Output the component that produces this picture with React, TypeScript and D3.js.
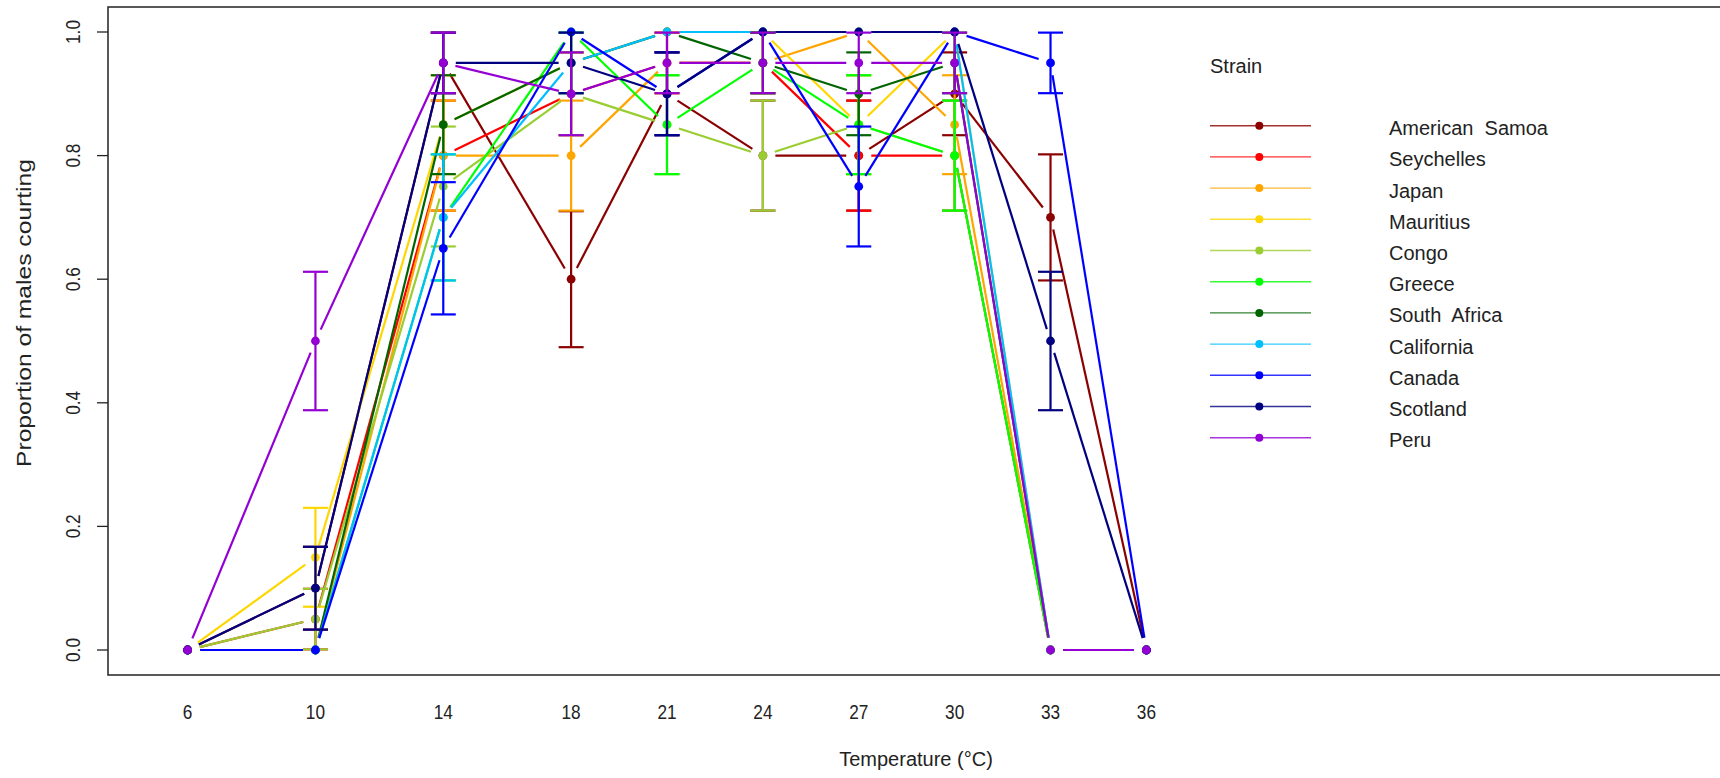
import React from "react";
import * as d3 from "d3";

// ---- data ----
const temperatures = [6, 10, 14, 18, 21, 24, 27, 30, 33, 36];
const tempLabels = ["6", "10", "14", "18", "21", "24", "27", "30", "33", "36"];
const yTicks = [0, 0.2, 0.4, 0.6, 0.8, 1.0];

const strainNames = [
  "American  Samoa", "Seychelles", "Japan", "Mauritius", "Congo", "Greece",
  "South  Africa", "California", "Canada", "Scotland", "Peru",
];
const strainColors = [
  "#8B0000", "#FF0000", "#FFA500", "#FFD700", "#9ACD32", "#00FF00",
  "#006400", "#00BFFF", "#0000FF", "#000080", "#9400D3",
];

const americanSamoa = [0, 0.1, 0.95, 0.6, 0.9, 0.8, 0.8, 0.9, 0.7, 0];
const americanSamoaSE = [0, 0.067, 0.049, 0.11, 0.067, 0.089, 0.089, 0.067, 0.102, 0];
const seychelles = [0, 0.05, 0.8, 0.9, 0.95, 0.95, 0.8, 0.8, 0, 0];
const seychellesSE = [0, 0.049, 0.089, 0.067, 0.049, 0.049, 0.089, 0.089, 0, 0];
const japan = [0, 0, 0.8, 0.8, 0.95, 0.95, 1.0, 0.85, 0, 0];
const japanSE = [0, 0, 0.089, 0.089, 0.049, 0.049, 0, 0.08, 0, 0];
const mauritius = [0, 0.15, 0.85, 0.95, 1.0, 1.0, 0.85, 1.0, 0, 0];
const mauritiusSE = [0, 0.08, 0.08, 0.049, 0, 0, 0.08, 0, 0, 0];
const congo = [0, 0.05, 0.75, 0.9, 0.85, 0.8, 0.85, 0.8, 0, 0];
const congoSE = [0, 0.049, 0.097, 0.067, 0.08, 0.089, 0.08, 0.089, 0, 0];
const greece = [0, 0, 0.7, 1.0, 0.85, 0.95, 0.85, 0.8, 0, 0];
const greeceSE = [0, 0, 0.102, 0, 0.08, 0.049, 0.08, 0.089, 0, 0];
const southAfrica = [0, 0, 0.85, 0.95, 1.0, 0.95, 0.9, 0.95, 0, 0];
const southAfricaSE = [0, 0, 0.08, 0.049, 0, 0.049, 0.067, 0.049, 0, 0];
const california = [0, 0, 0.7, 0.95, 1.0, 1.0, 1.0, 1.0, 0, 0];
const californiaSE = [0, 0, 0.102, 0.049, 0, 0, 0, 0, 0, 0];
const canada = [0, 0, 0.65, 1.0, 0.9, 1.0, 0.75, 1.0, 0.95, 0];
const canadaSE = [0, 0, 0.107, 0, 0.067, 0, 0.097, 0, 0.049, 0];
const scotland = [0, 0.1, 0.95, 0.95, 0.9, 1.0, 1.0, 1.0, 0.5, 0];
const scotlandSE = [0, 0.067, 0.049, 0.049, 0.067, 0, 0, 0, 0.112, 0];
const peru = [0, 0.5, 0.95, 0.9, 0.95, 0.95, 0.95, 0.95, 0, 0];
const peruSE = [0, 0.112, 0.049, 0.067, 0.049, 0.049, 0.049, 0.049, 0, 0];

const seriesValues = [
  americanSamoa, seychelles, japan, mauritius, congo, greece,
  southAfrica, california, canada, scotland, peru,
];
const seriesSE = [
  americanSamoaSE, seychellesSE, japanSE, mauritiusSE, congoSE, greeceSE,
  southAfricaSE, californiaSE, canadaSE, scotlandSE, peruSE,
];

// ---- layout ----
const W = 1720;
const H = 778;
const box = { left: 108, top: 7, right: 1722, bottom: 675 };
const GAP = 12.5;
const R = 4.4;
const CAP = 12.5;
const LW = 2.2;
const FONT = "'Liberation Sans', Arial, Helvetica, sans-serif";

const x = d3.scaleLinear().domain([6, 36]).range([187.6, 1146.4]);
const y = d3.scaleLinear().domain([0, 1]).range([650, 32]);

function gappedSegments(pts: [number, number][]) {
  const segs: [number, number, number, number][] = [];
  for (let i = 0; i < pts.length - 1; i++) {
    const [x1, y1] = pts[i];
    const [x2, y2] = pts[i + 1];
    const dx = x2 - x1;
    const dy = y2 - y1;
    const d = Math.hypot(dx, dy);
    if (d <= 2 * GAP) continue;
    const ux = dx / d;
    const uy = dy / d;
    segs.push([x1 + ux * GAP, y1 + uy * GAP, x2 - ux * GAP, y2 - uy * GAP]);
  }
  return segs;
}

export default function App() {
  const legendX1 = 1210;
  const legendX2 = 1311;
  const legendPt = 1259.3;
  const legendY0 = 125.7;
  const legendStep = 31.2;
  const legendTextX = 1389;

  return (
    <svg
      width={W}
      height={H}
      style={{ position: "absolute", left: 0, top: 0, background: "#fff" }}
      fontFamily={FONT}
    >
      <rect x={0} y={0} width={W} height={H} fill="#fff" />
      {/* plot box */}
      <rect
        x={box.left}
        y={box.top}
        width={box.right - box.left}
        height={box.bottom - box.top}
        fill="none"
        stroke="#222"
        strokeWidth={1.5}
      />
      {/* y axis ticks and labels */}
      {yTicks.map((t) => (
        <g key={t}>
          <line x1={97} x2={box.left} y1={y(t)} y2={y(t)} stroke="#222" strokeWidth={1.3} />
          <g transform={`translate(72.5,${y(t)}) rotate(-90) scale(0.82,1)`}>
            <text x={0} y={0} dy="0.36em" textAnchor="middle" fontSize={21} fill="#222">
              {t.toFixed(1)}
            </text>
          </g>
        </g>
      ))}
      {/* x labels */}
      {temperatures.map((t, i) => (
        <g key={t} transform={`translate(${x(t)},${711})`}>
          <g transform="scale(0.82,1)">
            <text x={0} y={0} dy="0.36em" textAnchor="middle" fontSize={21} fill="#222">
              {tempLabels[i]}
            </text>
          </g>
        </g>
      ))}
      {/* axis titles */}
      <text x={916} y={759} dy="0.36em" textAnchor="middle" fontSize={20} fill="#222">
        Temperature (°C)
      </text>
      <g transform="translate(24,313) rotate(-90)">
        <text x={0} y={0} dy="0.36em" textAnchor="middle" fontSize={20} fill="#222"
          textLength={308} lengthAdjust="spacingAndGlyphs">
          Proportion of males courting
        </text>
      </g>

      {/* series */}
      {seriesValues.map((vals, si) => {
        const col = strainColors[si];
        const pts: [number, number][] = vals.map((v, i) => [x(temperatures[i]), y(v)]);
        const segs = gappedSegments(pts);
        const se = seriesSE[si];
        return (
          <g key={si}>
            {segs.map((s, k) => (
              <line key={k} x1={s[0]} y1={s[1]} x2={s[2]} y2={s[3]} stroke={col} strokeWidth={LW} />
            ))}
            {pts.map((p, k) => (
              <circle key={k} cx={p[0]} cy={p[1]} r={R} fill={col} />
            ))}
            {vals.map((v, k) => {
              if (!se[k]) return null;
              const xc = x(temperatures[k]);
              const yl = y(v - se[k]);
              const yu = y(v + se[k]);
              return (
                <g key={k} stroke={col} strokeWidth={LW}>
                  <line x1={xc} x2={xc} y1={yl} y2={yu} />
                  <line x1={xc - CAP} x2={xc + CAP} y1={yl} y2={yl} />
                  <line x1={xc - CAP} x2={xc + CAP} y1={yu} y2={yu} />
                </g>
              );
            })}
          </g>
        );
      })}

      {/* legend */}
      <text x={legendX1} y={73} fontSize={20} fill="#222">Strain</text>
      {strainNames.map((name, i) => {
        const ly = legendY0 + i * legendStep;
        return (
          <g key={name}>
            <line x1={legendX1} x2={legendX2} y1={ly} y2={ly} stroke={strainColors[i]} strokeWidth={1.4} strokeOpacity={0.8} />
            <circle cx={legendPt} cy={ly} r={4} fill={strainColors[i]} />
            <text x={legendTextX} y={ly + 9.5} fontSize={20} fill="#222" style={{ whiteSpace: "pre" }}>
              {name}
            </text>
          </g>
        );
      })}
    </svg>
  );
}
